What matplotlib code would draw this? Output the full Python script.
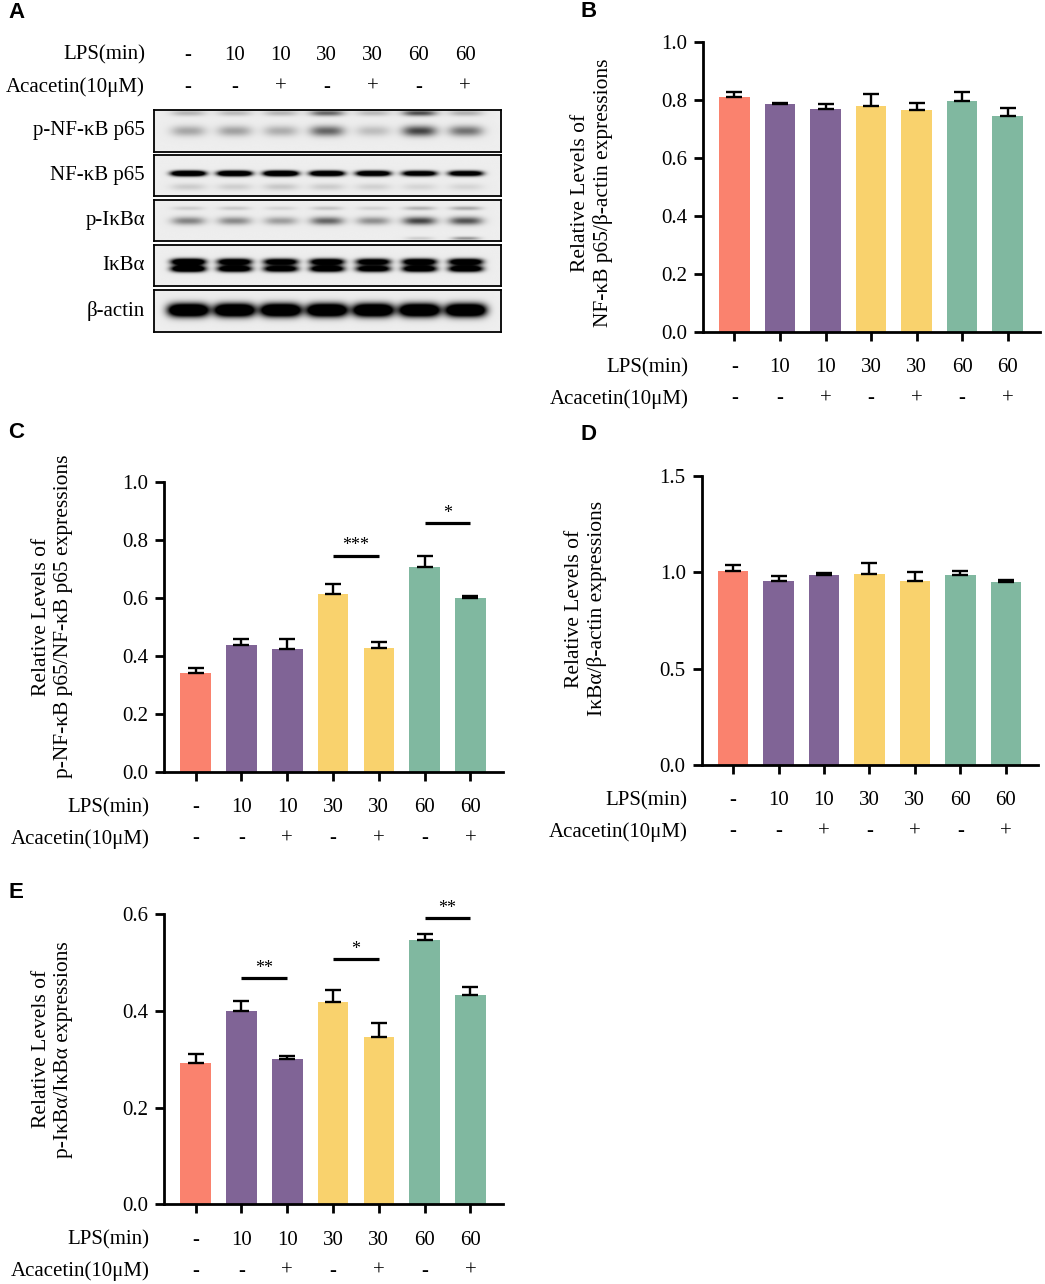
import numpy as np
import matplotlib
matplotlib.use('Agg')
import matplotlib.pyplot as plt
from matplotlib.transforms import blended_transform_factory

plt.rcParams['font.family'] = ['Liberation Serif', 'DejaVu Serif']

# ---------------- data ----------------
lps_labels = ['-', '10', '10', '30', '30', '60', '60']
aca_labels = ['-', '-', '+', '-', '+', '-', '+']
bar_colors = ['#FA826E', '#806496', '#806496', '#F9D26D', '#F9D26D', '#80B8A0', '#80B8A0']

# Panel B: NF-kB p65 / beta-actin
b_vals = [0.812, 0.785, 0.770, 0.780, 0.764, 0.796, 0.744]
b_errs = [0.014, 0.006, 0.017, 0.039, 0.024, 0.030, 0.028]
# Panel C: p-NF-kB p65 / NF-kB p65
c_vals = [0.341, 0.438, 0.424, 0.614, 0.428, 0.707, 0.598]
c_errs = [0.015, 0.019, 0.033, 0.034, 0.020, 0.038, 0.009]
c_sigs = [(3, 4, '***', 0.745), (5, 6, '*', 0.857)]
# Panel D: IkBa / beta-actin
d_vals = [1.006, 0.956, 0.985, 0.992, 0.956, 0.985, 0.949]
d_errs = [0.033, 0.022, 0.012, 0.057, 0.043, 0.022, 0.008]
# Panel E: p-IkBa / IkBa
e_vals = [0.293, 0.399, 0.300, 0.419, 0.346, 0.546, 0.434]
e_errs = [0.019, 0.022, 0.007, 0.024, 0.029, 0.013, 0.016]
e_sigs = [(1, 2, '**', 0.468), (3, 4, '*', 0.508), (5, 6, '**', 0.593)]

# Panel A: western blot band intensities per lane
blot_labels = ['p-NF-κB p65', 'NF-κB p65', 'p-IκBα', 'IκBα', 'β-actin']
pnfkb_upper = [0.24, 0.22, 0.24, 0.58, 0.22, 0.68, 0.26]
pnfkb_lower = [0.30, 0.32, 0.27, 0.58, 0.20, 0.72, 0.52]
nfkb_main = [2.0, 2.0, 2.1, 1.9, 1.8, 1.6, 1.6]
nfkb_minor = [0.14, 0.13, 0.16, 0.14, 0.12, 0.10, 0.10]
pikba_upper = [0.14, 0.16, 0.11, 0.18, 0.12, 0.26, 0.30]
pikba_main = [0.45, 0.42, 0.34, 0.58, 0.40, 0.72, 0.66]
pikba_low = [0.0, 0.0, 0.0, 0.0, 0.0, 0.14, 0.38]
ikba_top = [1.8, 1.6, 1.5, 1.6, 1.5, 1.6, 1.6]
ikba_bottom = [1.8, 1.6, 1.5, 1.6, 1.5, 1.6, 1.6]
actin = [1.9, 1.9, 1.9, 1.9, 1.9, 1.9, 1.9]

# ---------------- figure ----------------
FW, FH = 1045, 1284
fig = plt.figure(figsize=(FW / 100, FH / 100), dpi=100)


def rect(l, t, r, b):
    return [l / FW, 1 - b / FH, (r - l) / FW, (b - t) / FH]


LANE_XLIM = (-0.74, 6.78)


def strip_image(bands, H=120, W=800):
    xs = np.linspace(LANE_XLIM[0], LANE_XLIM[1], W)
    ys = np.linspace(0, 1, H)
    dark = np.zeros((H, W))
    for yc, sig, hw, pw, intens in bands:
        py = np.exp(-0.5 * ((ys - yc) / sig) ** 2)
        for i, v in enumerate(intens):
            px = np.exp(-np.abs((xs - i) / hw) ** pw)
            dark += v * np.outer(py, px)
    bg = 0.93
    return bg * (1 - np.clip(dark, 0, 1))


strip_bands = [
    [(0.07, 0.05, 0.37, 3, pnfkb_upper), (0.50, 0.09, 0.37, 3, pnfkb_lower)],
    [(0.45, 0.045, 0.37, 4, nfkb_main), (0.78, 0.06, 0.38, 3, nfkb_minor)],
    [(0.20, 0.035, 0.34, 3, pikba_upper), (0.51, 0.07, 0.36, 3, pikba_main),
     (0.94, 0.03, 0.30, 3, pikba_low)],
    [(0.41, 0.055, 0.37, 4, ikba_top), (0.58, 0.055, 0.37, 4, ikba_bottom)],
    [(0.48, 0.11, 0.44, 4, actin)],
]
strip_pos = [(110, 152), (155, 196), (200, 241), (245, 286), (290, 332)]

blot_axes = []
for (t, b), bands, lab in zip(strip_pos, strip_bands, blot_labels):
    ax = fig.add_axes(rect(154, t, 501, b))
    ax.imshow(strip_image(bands), cmap='gray', vmin=0, vmax=1, aspect='auto',
              extent=(LANE_XLIM[0], LANE_XLIM[1], 0, 1), interpolation='bilinear')
    ax.set_xlim(*LANE_XLIM)
    ax.set_ylim(0, 1)
    ax.set_xticks([])
    ax.set_yticks([])
    for s in ax.spines.values():
        s.set_linewidth(1.3)
    ax.text(-0.026, 0.5, lab, transform=ax.transAxes, ha='right', va='center', fontsize=15)
    blot_axes.append(ax)

top_ax = blot_axes[0]
trb = blended_transform_factory(top_ax.transData, top_ax.transAxes)
h_top = strip_pos[0][1] - strip_pos[0][0]
y_lps = 1 + (strip_pos[0][0] - 55) / h_top
y_aca = 1 + (strip_pos[0][0] - 87) / h_top
for i, (l, a) in enumerate(zip(lps_labels, aca_labels)):
    top_ax.text(i, y_lps, l, transform=trb, ha='center', va='center', fontsize=15)
    top_ax.text(i, y_aca, a, transform=trb, ha='center', va='center', fontsize=15)
top_ax.text(-0.026, y_lps, 'LPS(min)', transform=top_ax.transAxes, ha='right', va='center', fontsize=15)
top_ax.text(-0.026, y_aca, 'Acacetin(10μM)', transform=top_ax.transAxes, ha='right', va='center', fontsize=15)


def bar_panel(r, vals, errs, ymax, yticks, ylabel, lab_xy, sigs=()):
    ax = fig.add_axes(r)
    x = np.arange(len(vals))
    ax.bar(x, vals, width=0.67, color=bar_colors, zorder=2)
    ax.errorbar(x, vals, yerr=[np.zeros(len(errs)), errs], fmt='none', ecolor='black',
                elinewidth=1.7, capsize=5.5, capthick=1.7, zorder=3)
    ax.set_xlim(-0.69, 6.71)
    ax.set_ylim(0, ymax)
    ax.set_yticks(yticks)
    ax.set_yticklabels([f'{t:.1f}' for t in yticks])
    ax.set_xticks(x)
    ax.set_xticklabels([])
    for s in ['top', 'right']:
        ax.spines[s].set_visible(False)
    for s in ['left', 'bottom']:
        ax.spines[s].set_linewidth(2.0)
        ax.spines[s].set_capstyle('projecting')
    ax.tick_params(axis='both', length=6.5, width=2.0, labelsize=15, pad=5)
    ax.text(lab_xy[0], lab_xy[1], ylabel, transform=ax.transAxes, rotation=90,
            ha='center', va='center', fontsize=15.5, linespacing=1.2, multialignment='center')
    tr = blended_transform_factory(ax.transData, ax.transAxes)
    for i, (l, a) in enumerate(zip(lps_labels, aca_labels)):
        ax.text(i, -0.124, l, transform=tr, ha='center', va='center', fontsize=15)
        ax.text(i, -0.231, a, transform=tr, ha='center', va='center', fontsize=15)
    ax.text(-0.042, -0.124, 'LPS(min)', transform=ax.transAxes, ha='right', va='center', fontsize=15)
    ax.text(-0.042, -0.231, 'Acacetin(10μM)', transform=ax.transAxes, ha='right', va='center', fontsize=15)
    for i, j, txt, y in sigs:
        ax.plot([i, j], [y, y], color='black', lw=2.3, clip_on=False, solid_capstyle='butt', zorder=4)
        ax.text((i + j) / 2, y + 0.004 * ymax, txt, ha='center', va='bottom', fontsize=13, clip_on=False)
    return ax


bar_panel(rect(703, 42, 1040, 332), b_vals, b_errs, 1.0, [0.0, 0.2, 0.4, 0.6, 0.8, 1.0],
          'Relative Levels of\nNF-κB p65/β-actin expressions', (-0.328, 0.48))
bar_panel(rect(164, 481.7, 503, 771.7), c_vals, c_errs, 1.0, [0.0, 0.2, 0.4, 0.6, 0.8, 1.0],
          'Relative Levels of\np-NF-κB p65/NF-κB p65 expressions', (-0.33, 0.535), c_sigs)
bar_panel(rect(701.7, 475.7, 1038, 765), d_vals, d_errs, 1.5, [0.0, 0.5, 1.0, 1.5],
          'Relative Levels of\nIκBα/β-actin expressions', (-0.343, 0.54))
bar_panel(rect(164, 914.3, 503, 1204.3), e_vals, e_errs, 0.6, [0.0, 0.2, 0.4, 0.6],
          'Relative Levels of\np-IκBα/IκBα expressions', (-0.329, 0.535), e_sigs)

# panel letters
for letter, (x, y) in zip('ABCDE', [(8, 18), (580, 17), (8, 438), (580, 440), (8, 898)]):
    fig.text(x / FW, 1 - y / FH, letter, fontsize=16, fontweight='bold',
             family=['Liberation Sans', 'DejaVu Sans'], ha='left', va='baseline')

fig.savefig('out.png', dpi=100)
